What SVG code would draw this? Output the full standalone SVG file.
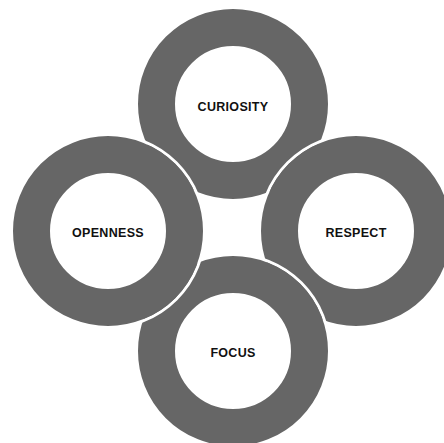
<svg xmlns="http://www.w3.org/2000/svg" width="444" height="443" viewBox="0 0 444 443">
  <style>
    .sep { fill: none; stroke: #ffffff; stroke-width: 3; }
    .ring { fill: #ffffff; stroke: #666666; stroke-width: 37; }
    .lbl { font-family: "Liberation Sans", Arial, sans-serif; font-weight: bold; font-size: 12.5px; fill: #111111; text-anchor: middle; letter-spacing: 0.3px; }
  </style>
  <rect width="444" height="443" fill="#ffffff"/>
  <g id="curiosity">
    <circle class="sep" cx="233" cy="104" r="96.5"/>
    <circle class="ring" cx="233" cy="104" r="76.5"/>
    <text class="lbl" x="233" y="111">CURIOSITY</text>
  </g>
  <g id="respect">
    <circle class="sep" cx="356" cy="231" r="96.5"/>
    <circle class="ring" cx="356" cy="231" r="76.5"/>
    <text class="lbl" x="356" y="236.5">RESPECT</text>
  </g>
  <g id="focus">
    <circle class="sep" cx="233" cy="351" r="96.5"/>
    <circle class="ring" cx="233" cy="351" r="76.5"/>
    <text class="lbl" x="233" y="357">FOCUS</text>
  </g>
  <g id="openness">
    <circle class="sep" cx="108" cy="231" r="96.5"/>
    <circle class="ring" cx="108" cy="231" r="76.5"/>
    <text class="lbl" x="108" y="236.5">OPENNESS</text>
  </g>
  <g id="connectors"></g>
</svg>
